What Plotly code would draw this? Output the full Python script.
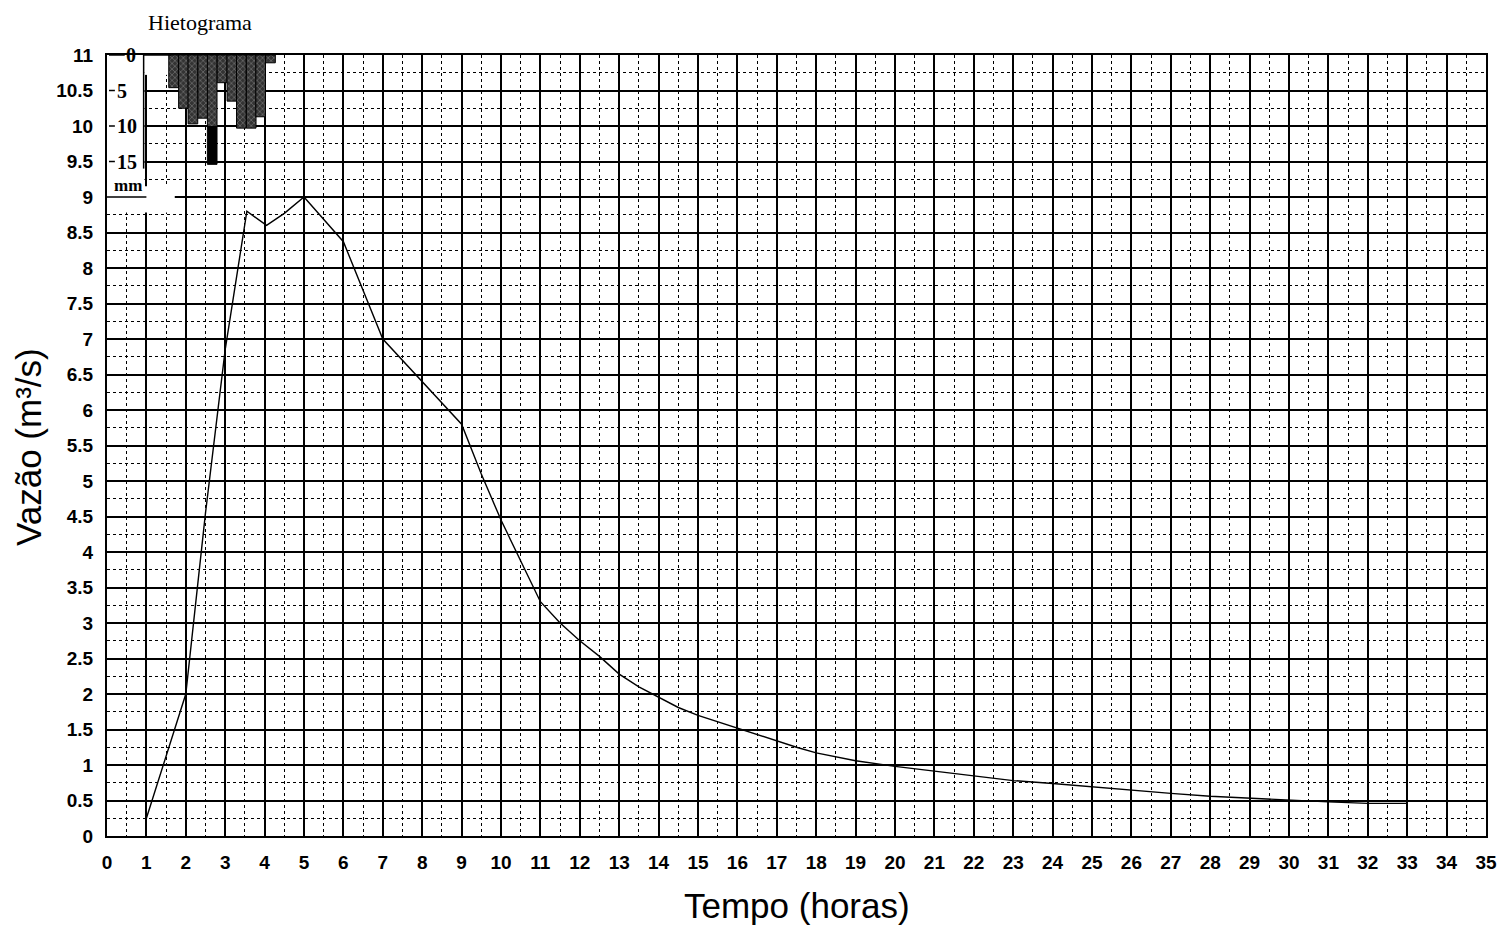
import plotly.graph_objects as go

# ---- data: hydrograph (Tempo in hours, Vazão in m3/s)
tempo = [1, 2, 2.5, 3, 3.55, 4.05, 4.5, 5.0, 6.0, 7.0, 9.0, 9.5, 10.0, 10.5, 11.0,
         11.5, 12, 12.5, 13, 13.5, 14, 14.5, 15, 15.5, 16, 16.5, 17, 17.5, 18,
         19, 20, 21, 22, 23, 24, 25, 26, 27, 28, 29, 30, 31, 32, 33]
vazao = [0.25, 2.0, 4.55, 6.85, 8.8, 8.6, 8.77, 9.0, 8.37, 7.0, 5.8, 5.1, 4.45, 3.87, 3.3,
         3.0, 2.75, 2.53, 2.28, 2.1, 1.95, 1.81, 1.70, 1.61, 1.52, 1.42, 1.33, 1.25, 1.17,
         1.06, 0.98, 0.91, 0.85, 0.78, 0.74, 0.69, 0.65, 0.60, 0.56, 0.53, 0.51, 0.48, 0.46, 0.46]

# ---- data: hietograma (rain, mm per interval)
chuva_t = [1.69, 1.94, 2.18, 2.43, 2.67, 2.92, 3.17, 3.41, 3.66, 3.90, 4.15]
chuva_mm = [4.6, 7.5, 9.7, 8.9, 10.1, 3.9, 6.5, 10.3, 10.3, 8.7, 1.1]
chuva_extra_t = [2.67]
chuva_extra_base = [10.1]
chuva_extra_mm = [5.3]
bar_w = 0.245

x_ticks = list(range(0, 36))
y_ticks = [i * 0.5 for i in range(0, 23)]
y_ticklabels = [("%g" % v) for v in y_ticks]
hiet_ticks = [0, 5, 10, 15]

fig = go.Figure()

fig.add_trace(go.Scatter(x=tempo, y=vazao, mode="lines",
                         line=dict(color="black", width=1.4), showlegend=False,
                         hoverinfo="skip"))

fig.add_trace(go.Bar(x=chuva_t, y=chuva_mm, width=bar_w, yaxis="y2",
                     marker=dict(color="#333333",
                                 line=dict(color="black", width=1),
                                 pattern=dict(shape="x", fillmode="overlay",
                                              fgcolor="#bdbdbd",
                                              size=4, solidity=0.3)),
                     showlegend=False, hoverinfo="skip"))
fig.add_trace(go.Bar(x=chuva_extra_t, y=chuva_extra_mm, base=chuva_extra_base,
                     width=bar_w, yaxis="y2",
                     marker=dict(color="black", line=dict(color="black", width=1)),
                     showlegend=False, hoverinfo="skip"))

fig.update_layout(
    width=1510, height=930,
    margin=dict(l=107, r=24, t=55, b=94),
    paper_bgcolor="white", plot_bgcolor="white",
    barmode="overlay",
    xaxis=dict(range=[0, 35], tickvals=x_ticks, ticktext=[str(v) for v in x_ticks],
               showgrid=True, gridcolor="black", gridwidth=1.7,
               minor=dict(dtick=0.5, tick0=0, showgrid=True, gridcolor="black",
                          gridwidth=1, griddash="dot"),
               showline=True, linecolor="black", linewidth=2, mirror=True,
               zeroline=False, ticks="", ticklabelstandoff=8,
               tickfont=dict(family="Liberation Sans, Arial", size=19, color="black",
                             weight="bold")),
    yaxis=dict(range=[0, 11], tickvals=y_ticks, ticktext=y_ticklabels,
               showgrid=True, gridcolor="black", gridwidth=1.7,
               minor=dict(dtick=0.25, tick0=0, showgrid=True, gridcolor="black",
                          gridwidth=1, griddash="dot"),
               showline=True, linecolor="black", linewidth=2, mirror=True,
               zeroline=False, ticks="", ticklabelstandoff=8,
               tickfont=dict(family="Liberation Sans, Arial", size=19, color="black",
                             weight="bold")),
    yaxis2=dict(range=[110, 0], overlaying="y", visible=False, showgrid=False,
                zeroline=False),
)

shapes = []
# white inset background of the hietogram axis
shapes.append(dict(type="rect", xref="x", yref="y", x0=0, x1=0.95, y0=9.15, y1=11,
                   fillcolor="white", line=dict(width=0), layer="between"))
shapes.append(dict(type="rect", xref="x", yref="y", x0=0, x1=1.72, y0=8.78, y1=9.15,
                   fillcolor="white", line=dict(width=0), layer="between"))
shapes.append(dict(type="rect", xref="x", yref="y", x0=0.95, x1=1.62, y0=10.72, y1=11,
                   fillcolor="white", line=dict(width=0), layer="between"))
# hietogram axis frame
shapes.append(dict(type="line", xref="x", yref="y2", x0=0.93, x1=0.93, y0=0, y1=16.0,
                   line=dict(color="black", width=1.5)))
for t in hiet_ticks:
    shapes.append(dict(type="line", xref="x", yref="y2", x0=0.05,
                       x1=(0.45 if t == 0 else 0.2), y0=t, y1=t,
                       line=dict(color="black", width=1.5)))
shapes.append(dict(type="line", xref="x", yref="y", x0=0.0, x1=1.0, y0=9.0, y1=9.0,
                   line=dict(color="black", width=1.5)))
shapes.append(dict(type="line", xref="x", yref="y", x0=0.93, x1=1.62, y0=11, y1=11,
                   line=dict(color="black", width=1.5)))
fig.update_layout(shapes=shapes)

serif = dict(family="Liberation Serif, Times New Roman", size=20, color="black")
ann = []
for t in hiet_ticks:
    ann.append(dict(x=(0.42 if t == 0 else 0.2), y=t, xref="x", yref="y2", text=str(t),
                    showarrow=False, xanchor="left", yanchor="middle",
                    font=dict(serif, weight="bold")))
ann.append(dict(x=0.12, y=9.0, xref="x", yref="y", text="mm", showarrow=False,
                xanchor="left", yanchor="bottom",
                font=dict(family="Liberation Serif", size=17, color="black", weight="bold")))
ann.append(dict(x=(200 - 107) / 1379, y=1 + (55 - 22) / 781, xref="paper", yref="paper",
                text="Hietograma", showarrow=False, xanchor="center", yanchor="middle",
                font=dict(family="Liberation Serif, Times New Roman", size=22, color="black")))
ann.append(dict(x=(797 - 107) / 1379, y=-(905 - 836) / 781, xref="paper", yref="paper",
                text="Tempo (horas)", showarrow=False, xanchor="center", yanchor="middle",
                font=dict(family="Liberation Sans, Arial", size=35, color="black")))
ann.append(dict(x=-(107 - 28) / 1379, y=(836 - 447) / 781, xref="paper", yref="paper",
                text="Vazão (m³/s)", showarrow=False, xanchor="center", yanchor="middle",
                textangle=-90,
                font=dict(family="Liberation Sans, Arial", size=35, color="black")))
fig.update_layout(annotations=ann)

fig.write_html("out.html")
